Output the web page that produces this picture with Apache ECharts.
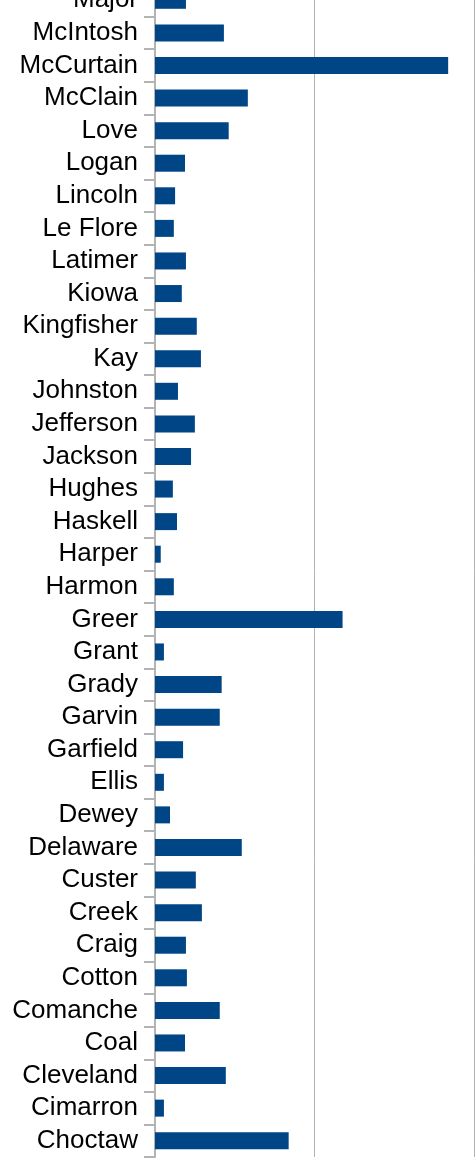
<!DOCTYPE html>
<html>
<head>
<meta charset="utf-8">
<script src="https://cdn.jsdelivr.net/npm/echarts@6/dist/echarts.min.js"></script>
<style>
  html, body { margin: 0; padding: 0; background: #fff; overflow: hidden; }
  #chart { width: 476px; height: 1179px; margin-top: -16px; }
</style>
</head>
<body>
<div id="chart"></div>
<script>
// counties, bottom to top
var counties = ['Choctaw', 'Cimarron', 'Cleveland', 'Coal', 'Comanche', 'Cotton', 'Craig', 'Creek', 'Custer',
  'Delaware', 'Dewey', 'Ellis', 'Garfield', 'Garvin', 'Grady', 'Grant', 'Greer', 'Harmon', 'Harper',
  'Haskell', 'Hughes', 'Jackson', 'Jefferson', 'Johnston', 'Kay', 'Kingfisher', 'Kiowa', 'Latimer',
  'Le Flore', 'Lincoln', 'Logan', 'Love', 'McClain', 'McCurtain', 'McIntosh', 'Major'];

var values = [419, 28, 222, 94, 203, 100, 97, 147, 128,
  272, 47, 28, 88, 203, 209, 28, 588, 59, 18,
  69, 56, 113, 125, 72, 144, 131, 84, 97,
  59, 63, 94, 231, 291, 919, 216, 97];

var xMax = 1000;
var xStep = 500;

var chart = echarts.init(document.getElementById('chart'));

var option = {
  animation: false,
  backgroundColor: '#ffffff',
  grid: {
    left: 155,
    right: 2,
    top: 0,
    bottom: 6
  },
  xAxis: {
    type: 'value',
    min: 0,
    max: xMax,
    interval: xStep,
    axisLabel: { show: false },
    axisTick: { show: false },
    axisLine: { show: false },
    splitLine: { show: true, lineStyle: { color: '#b3b3b3', width: 1 } }
  },
  yAxis: {
    type: 'category',
    data: counties,
    axisLine: { show: true, lineStyle: { color: '#b3b3b3', width: 2 } },
    axisTick: { show: true, interval: 0, length: 11, lineStyle: { color: '#b3b3b3', width: 2 } },
    axisLabel: {
      interval: 0,
      margin: 17,
      padding: [5, 0, 0, 0],
      fontFamily: 'Liberation Sans',
      fontSize: 26,
      color: '#000000'
    }
  },
  series: [
    {
      type: 'bar',
      data: values,
      barWidth: 17,
      itemStyle: { color: '#004586' }
    }
  ]
};

chart.setOption(option);
</script>
</body>
</html>
